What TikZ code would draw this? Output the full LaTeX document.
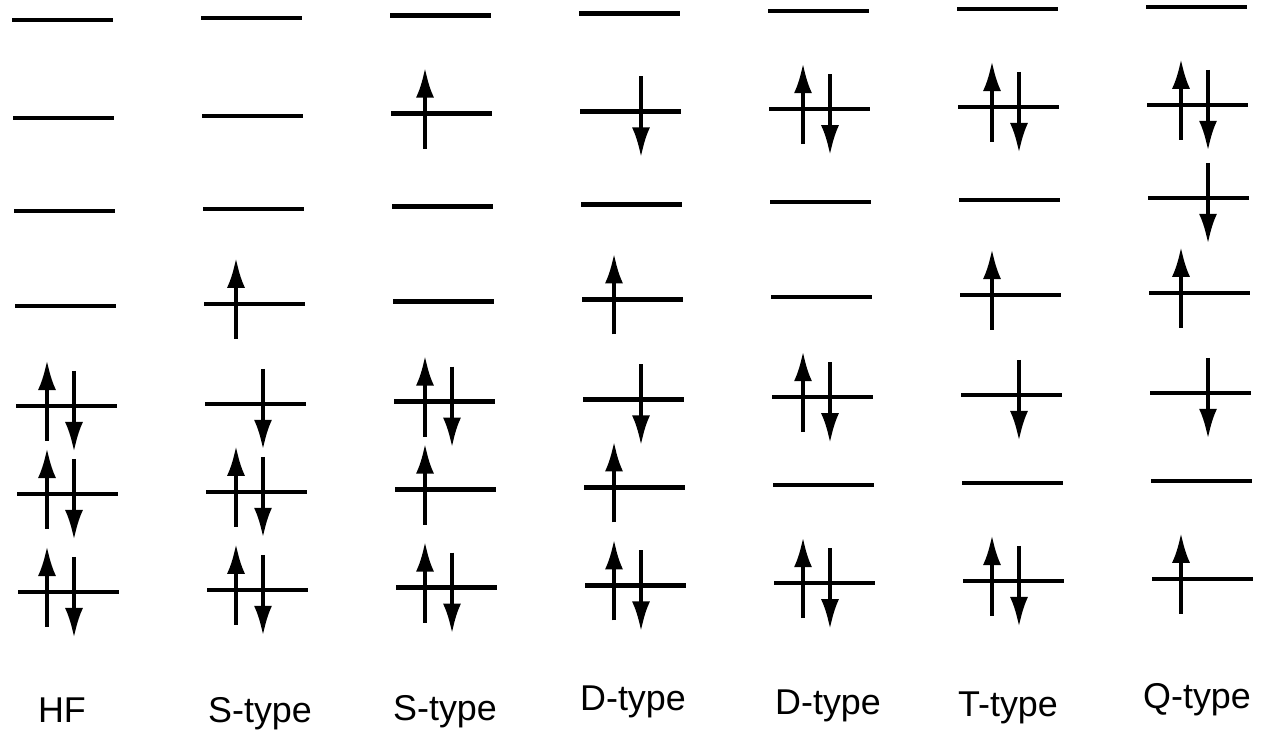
\documentclass[tikz,border=0pt]{standalone}
\usepackage{fontspec}
\setsansfont{Liberation Sans}
\usetikzlibrary{arrows.meta}
\tikzset{
    orbital/.style={line width=1.25pt},
    spinup/.style={-{Latex[length=3mm,width=1.8mm]}, line width=1.1pt},
    spindown/.style={-{Latex[length=3mm,width=1.8mm]}, line width=1.1pt},
    typelabel/.style={font=\sffamily\fontsize{10.2}{12}\selectfont, anchor=base, inner sep=0pt},
}
\def\levely{{592,494,406,306,211,118,20}}

\begin{document}
\begin{tikzpicture}[x=0.01cm, y=-0.01cm]
    \useasboundingbox (0,0) rectangle (1276,731);
    % occupation per level, bottom to top: up/down
    \foreach \c/\occ in {
        1/{1/1,1/1,1/1,0/0,0/0,0/0,0/0},
        2/{1/1,1/1,0/1,1/0,0/0,0/0,0/0},
        3/{1/1,1/0,1/1,0/0,0/0,1/0,0/0},
        4/{1/1,1/0,0/1,1/0,0/0,0/1,0/0},
        5/{1/1,0/0,1/1,0/0,0/0,1/1,0/0},
        6/{1/1,0/0,0/1,1/0,0/0,1/1,0/0},
        7/{1/0,0/0,0/1,1/0,0/1,1/1,0/0}}{
        \foreach \u/\d [count=\l] in \occ {
            \pgfmathsetmacro\xl{12+189*(\c-1)}
            \pgfmathsetmacro\yl{\levely[\l-1]-2.2*(\c-1)}
            \coordinate (c\c-\l) at (\xl,\yl);
            \draw[orbital] ([xshift={(7-\l)*0.01cm}]c\c-\l) -- ++(101,0);
            \ifnum\u=1
                \draw[spinup] ([shift={(35,35)}]c\c-\l) -- ([shift={(35,-46)}]c\c-\l);
            \fi
            \ifnum\d=1
                \draw[spindown] ([shift={(62,-35)}]c\c-\l) -- ([shift={(62,46)}]c\c-\l);
            \fi
        }
    }
    \node[typelabel] (hf) at (62,722) {HF};
    \node[typelabel] (stypeA) at (260,722) {S-type};
    \node[typelabel] (stypeB) at (445,720) {S-type};
    \node[typelabel] (dtypeA) at (633,710) {D-type};
    \node[typelabel] (dtypeB) at (828,714) {D-type};
    \node[typelabel] (ttype) at (1008,716) {T-type};
    \node[typelabel] (qtype) at (1197,708) {Q-type};
\end{tikzpicture}
\end{document}
